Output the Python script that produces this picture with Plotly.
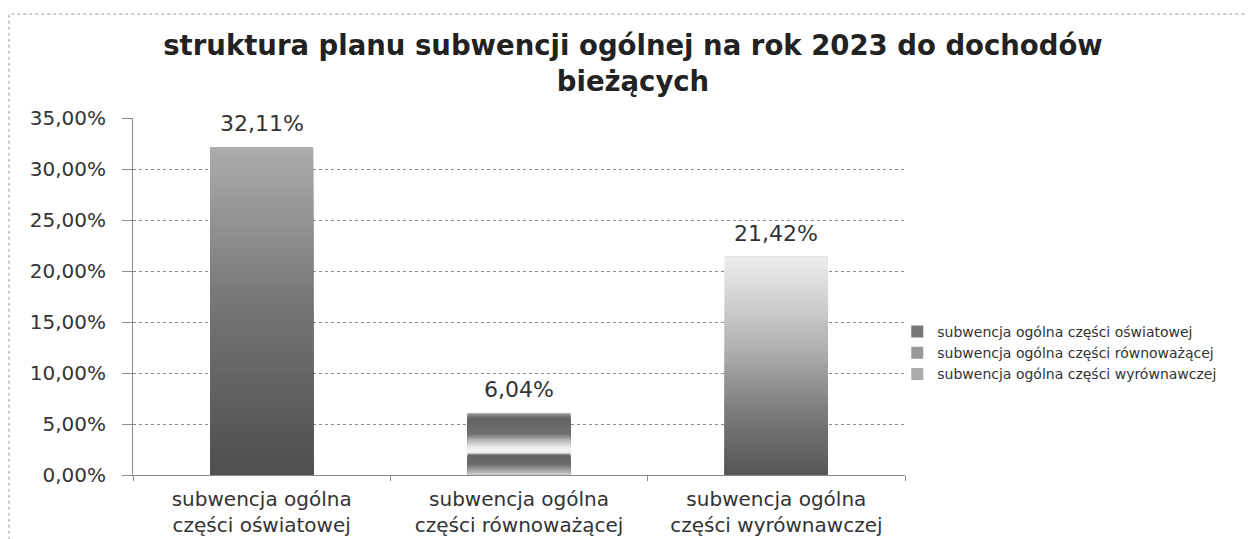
import plotly.graph_objects as go

# ---- data ----
categories = ["subwencja ogólna<br>części oświatowej",
              "subwencja ogólna<br>części równoważącej",
              "subwencja ogólna<br>części wyrównawczej"]
series_names = ["subwencja ogólna części oświatowej",
                "subwencja ogólna części równoważącej",
                "subwencja ogólna części wyrównawczej"]
values = [32.11, 6.04, 21.42]
y_ticks = [0, 5, 10, 15, 20, 25, 30, 35]
y_tick_labels = ["0,00%", "5,00%", "10,00%", "15,00%", "20,00%", "25,00%", "30,00%", "35,00%"]
title_text = "struktura planu subwencji ogólnej na rok 2023 do dochodów<br>bieżących"

# ---- style (gradient stops: fraction of bar height -> grey level) ----
grad_stops = [
    [(0.0, 78), (0.5, 115), (1.0, 172)],
    [(0.0, 205), (0.08, 160), (0.18, 105), (0.33, 100), (0.355, 240), (0.44, 240),
     (0.55, 190), (0.67, 110), (0.92, 100), (1.0, 150)],
    [(0.0, 85), (0.3, 125), (0.6, 180), (1.0, 238)],
]
legend_colors = ["#777777", "#999999", "#aaaaaa"]
N_SEG = 48
BAR_W = 0.4
FONT = "DejaVu Sans"


def grey_at(stops, f):
    for (f0, g0), (f1, g1) in zip(stops[:-1], stops[1:]):
        if f0 <= f <= f1:
            t = 0 if f1 == f0 else (f - f0) / (f1 - f0)
            g = int(round(g0 + (g1 - g0) * t))
            return f"rgb({g},{g},{g})"
    g = stops[-1][1]
    return f"rgb({g},{g},{g})"


fig = go.Figure()
annotations = []
for i, (cat, name, v) in enumerate(zip(categories, series_names, values)):
    label = f"{v:.2f}%".replace(".", ",")
    fig.add_trace(go.Bar(
        x=[cat], y=[v], name=name, legendgroup=name,
        marker=dict(color=legend_colors[i], line=dict(width=0)),
        width=BAR_W, hoverinfo="skip",
    ))
    # gradient: successively shorter bars drawn on top
    for k in range(N_SEG):
        frac_top = (N_SEG - k) / N_SEG
        frac_mid = (N_SEG - k - 0.5) / N_SEG
        fig.add_trace(go.Bar(
            x=[cat], y=[v * frac_top], legendgroup=name, showlegend=False,
            marker=dict(color=grey_at(grad_stops[i], frac_mid), line=dict(width=0)),
            width=BAR_W, hoverinfo="skip",
        ))
    annotations.append(dict(x=cat, y=v, xref="x", yref="y", text=label,
                            showarrow=False, yanchor="bottom", yshift=9,
                            font=dict(family=FONT, size=22, color="#333333")))

fig.update_layout(
    width=1255, height=539,
    barmode="overlay",
    paper_bgcolor="white", plot_bgcolor="white",
    margin=dict(l=125, r=358, t=110, b=72),
    font=dict(family=FONT, color="#333333"),
    title=dict(text=title_text, x=0.498, xref="container", xanchor="center",
               y=0.912, yref="container", yanchor="top",
               font=dict(family=FONT, size=27.5, color="#222222", weight="bold")),
    legend=dict(x=0.99, xanchor="left", y=0.342, yanchor="middle",
                font=dict(family=FONT, size=14, color="#333333"),
                tracegroupgap=0, bgcolor="rgba(0,0,0,0)", itemwidth=30),
    showlegend=True,
    annotations=annotations,
    shapes=[dict(type="rect", xref="paper", yref="paper",
                 x0=-0.1606, x1=1.5, y0=-0.5, y1=1.291,
                 line=dict(color="#999999", width=1, dash="dot"),
                 fillcolor="rgba(0,0,0,0)", layer="below")],
)
fig.update_yaxes(range=[0, 35], tickvals=y_ticks, ticktext=y_tick_labels,
                 showgrid=True, gridcolor="#8a8a8a", griddash="dot", gridwidth=1,
                 showline=True, linecolor="#8a8a8a", linewidth=1,
                 ticks="outside", ticklen=10, tickcolor="#8a8a8a",
                 tickfont=dict(family=FONT, size=20, color="#333333"),
                 ticklabelstandoff=12, zeroline=False, automargin=False)
fig.update_xaxes(showline=True, linecolor="#8a8a8a", linewidth=1,
                 ticks="outside", tickson="boundaries", ticklen=5, tickcolor="#8a8a8a",
                 tickfont=dict(family=FONT, size=20, color="#333333"),
                 ticklabelstandoff=6, showgrid=False, automargin=False)

fig.write_html("out.html")
